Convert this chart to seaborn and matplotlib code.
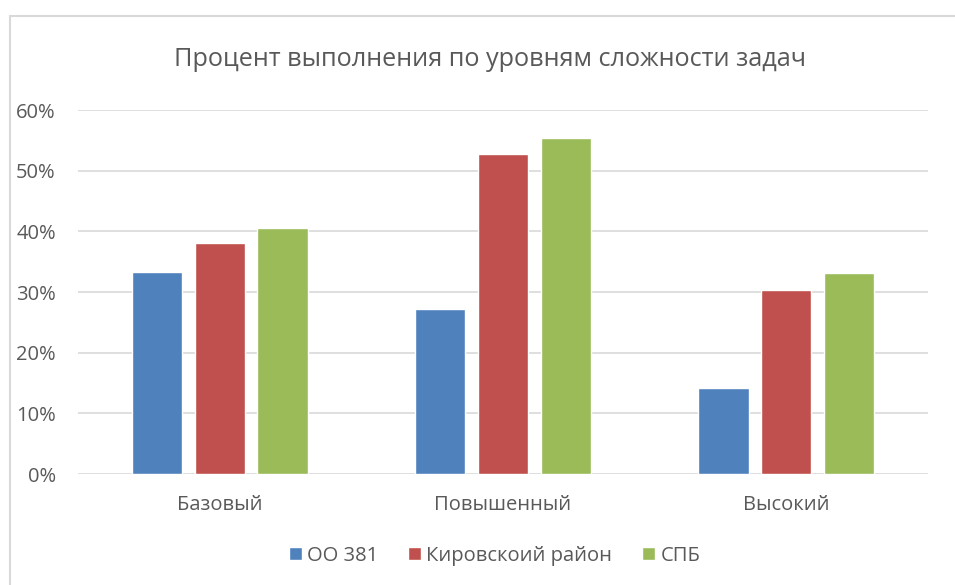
import pandas as pd
import seaborn as sns
import matplotlib.pyplot as plt
from matplotlib.patches import Rectangle
from matplotlib.ticker import PercentFormatter

# Values
levels = ['Базовый', 'Повышенный', 'Высокий']
series = ['ОО 381', 'Кировскоий район', 'СПБ']
oo381 = [0.333, 0.272, 0.142]
kirov = [0.381, 0.528, 0.303]
spb = [0.405, 0.554, 0.332]
colors = ['#4F81BD', '#C0504D', '#9BBB59']

df = pd.DataFrame({
    'level': levels * 3,
    'series': [series[0]] * 3 + [series[1]] * 3 + [series[2]] * 3,
    'value': oo381 + kirov + spb,
})

sns.set_theme(style='white')
plt.rcParams['font.family'] = ['Open Sans', 'DejaVu Sans']
text_col = '#595959'

fig = plt.figure(figsize=(9.55, 5.85), dpi=100)
ax = fig.add_axes([0.0817, 0.1897, 0.89, 0.6222])

sns.barplot(data=df, x='level', y='value', hue='series', order=levels,
            hue_order=series, palette=colors, width=0.665, gap=0.2,
            saturation=1, ax=ax, legend=True)

ax.set_ylim(0, 0.6)
ax.set_yticks([0, 0.1, 0.2, 0.3, 0.4, 0.5, 0.6])
ax.yaxis.set_major_formatter(PercentFormatter(1.0, decimals=0))
ax.grid(axis='y', color='#D9D9D9', linewidth=1.2)
ax.set_axisbelow(True)
for s in ax.spines.values():
    s.set_visible(False)
ax.set_xlabel('')
ax.set_ylabel('')
ax.tick_params(axis='y', labelsize=14.5, colors=text_col, pad=16, length=0)
ax.tick_params(axis='x', labelsize=14.5, colors=text_col, pad=15, length=0)

fig.text(0.513, 0.898, 'Процент выполнения по уровням сложности задач',
         ha='center', va='center', fontsize=18.2, color=text_col)

leg = ax.legend(loc='center', bbox_to_anchor=(0.49, -0.224), ncol=3,
                frameon=False, fontsize=14.5, handlelength=0.65,
                handleheight=0.65, handletextpad=0.25, columnspacing=1.5)
for t in leg.get_texts():
    t.set_color(text_col)

# chart area border
fig.patches.append(Rectangle((10 / 955, -0.1), 1.2, 1 - 16 / 585 + 0.1,
                             transform=fig.transFigure, fill=False,
                             edgecolor='#D9D9D9', linewidth=1.5))

plt.savefig('out.png', dpi=100)
